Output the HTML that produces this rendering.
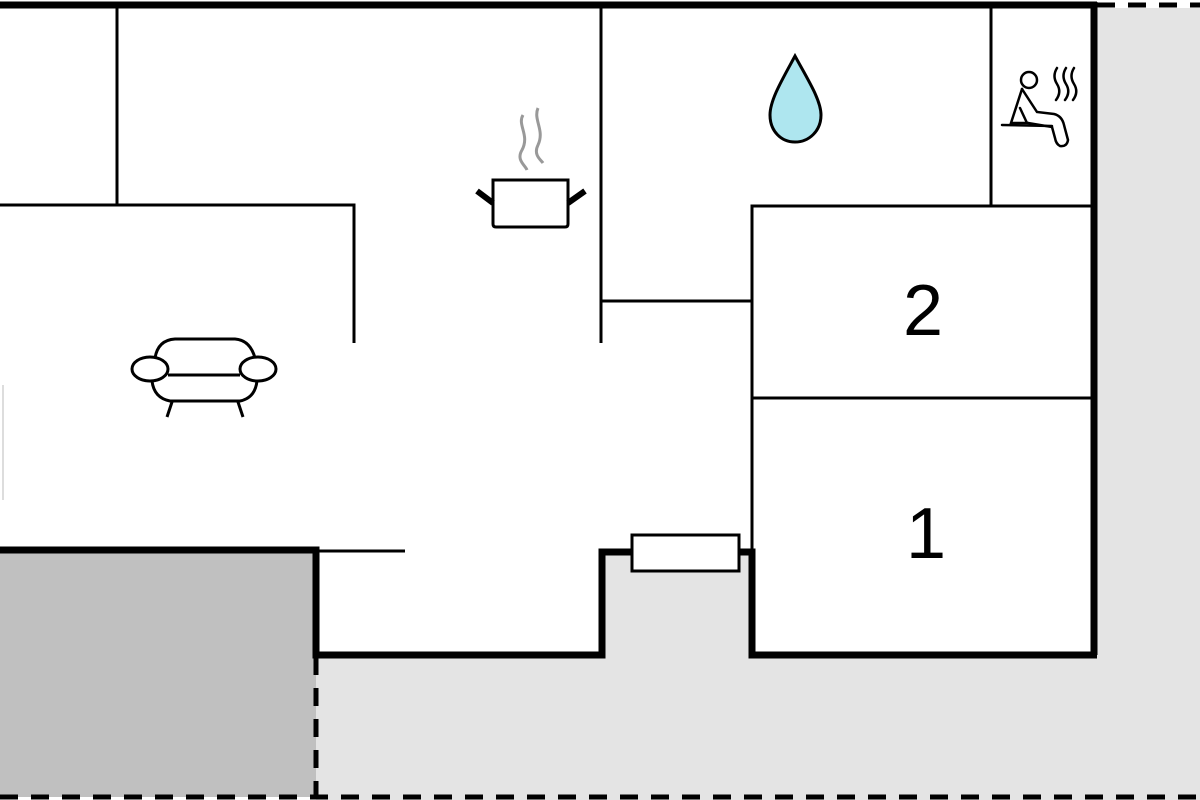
<!DOCTYPE html>
<html><head><style>html,body{margin:0;padding:0;background:#fff}svg{display:block}</style></head><body>
<svg width="1200" height="800" viewBox="0 0 1200 800" xmlns="http://www.w3.org/2000/svg">
<rect width="1200" height="800" fill="#fff"/>
<!-- grey areas -->
<rect x="1097" y="8" width="103" height="792" fill="#e4e4e4"/>
<rect x="316" y="655" width="884" height="145" fill="#e4e4e4"/>
<rect x="604" y="554" width="147" height="102" fill="#e4e4e4"/>
<rect x="0" y="553" width="316" height="244" fill="#c0c0c0"/>
<!-- dashed -->
<g stroke="#000" stroke-width="5" fill="none" stroke-dasharray="18,13">
<line x1="1097" y1="5" x2="1200" y2="5"/>
<line x1="316" y1="657" x2="316" y2="797"/>
<line x1="0" y1="797" x2="1200" y2="797"/>
</g>
<!-- thick walls -->
<g stroke="#000" stroke-width="7" fill="none" stroke-linejoin="miter">
<line x1="0" y1="5" x2="1097" y2="5"/>
<line x1="1094" y1="2" x2="1094" y2="655"/>
<polyline points="0,550 316,550 316,655 602,655 602,552 632,552"/>
<polyline points="738,552 752,552 752,655 1097,655"/>
</g>
<!-- thin walls -->
<g stroke="#000" stroke-width="3" fill="none">
<line x1="117" y1="5" x2="117" y2="205"/>
<polyline points="0,205 354,205 354,343"/>
<line x1="601" y1="5" x2="601" y2="343"/>
<line x1="601" y1="301" x2="752" y2="301"/>
<polyline points="752,550 752,206 1094,206"/>
<line x1="991" y1="5" x2="991" y2="206"/>
<line x1="752" y1="398" x2="1094" y2="398"/>
<line x1="316" y1="551" x2="405" y2="551"/>
</g>
<line x1="3" y1="385" x2="3" y2="500" stroke="#ddd" stroke-width="2"/>
<!-- radiator -->
<rect x="632" y="535" width="107" height="36" fill="#fff" stroke="#000" stroke-width="3"/>
<!-- labels -->
<text x="923" y="335" font-family="Liberation Sans, sans-serif" font-size="72" text-anchor="middle">2</text>
<text x="926" y="558" font-family="Liberation Sans, sans-serif" font-size="72" text-anchor="middle">1</text>
<!-- drop -->
<path d="M795,56 C782,80 770,100 770,115 C770,131 781,142 795,142 C809,142 821,131 821,115 C821,100 808,80 795,56 Z" fill="#aee6ef" stroke="#000" stroke-width="3"/>
<!-- pot -->
<g stroke="#999" stroke-width="3" fill="none">
<path d="M523,115 C517,125 530,135 522,150 C516,160 525,165 527,170"/>
<path d="M538,108 C533,120 545,130 538,145 C533,155 541,160 543,163"/>
</g>
<g stroke="#000" fill="none">
<path d="M493,180 L568,180 L568,224 Q568,227 565,227 L496,227 Q493,227 493,224 Z" stroke-width="3"/>
<line x1="477" y1="191" x2="493" y2="203" stroke-width="6"/>
<line x1="585" y1="191" x2="568" y2="203" stroke-width="6"/>
</g>
<!-- armchair -->
<g stroke="#000" stroke-width="3" fill="none">
<path d="M155,358 Q158,340 175,339 L235,339 Q250,340 255,358"/>
<ellipse cx="150" cy="369" rx="18" ry="12"/>
<ellipse cx="258" cy="369" rx="18" ry="12"/>
<line x1="168" y1="375" x2="240" y2="375"/>
<path d="M152,381 Q154,398 170,401 L240,401 Q255,398 257,381"/>
<line x1="172" y1="402" x2="167" y2="417"/>
<line x1="238" y1="402" x2="243" y2="417"/>
</g>
<!-- sauna -->
<g stroke="#000" stroke-width="2.5" fill="none" stroke-linecap="round">
<circle cx="1029" cy="80" r="8"/>
<path d="M1022,89 L1011,123 L1028,123 M1020,108 L1027,123"/>
<path d="M1022,89 L1037,112 L1054,114 Q1062,116 1064,125 L1068,140 Q1067,147 1060,146 Q1056,144 1055,138 L1052,127 L1028,123"/>
<line x1="1002" y1="125" x2="1052" y2="126"/>
<path d="M1057,68 Q1052,76 1057,84 Q1062,92 1056,100"/>
<path d="M1066,68 Q1061,76 1066,84 Q1071,92 1065,100"/>
<path d="M1074,68 Q1069,76 1074,84 Q1079,92 1073,100"/>
</g>
</svg>
</body></html>
